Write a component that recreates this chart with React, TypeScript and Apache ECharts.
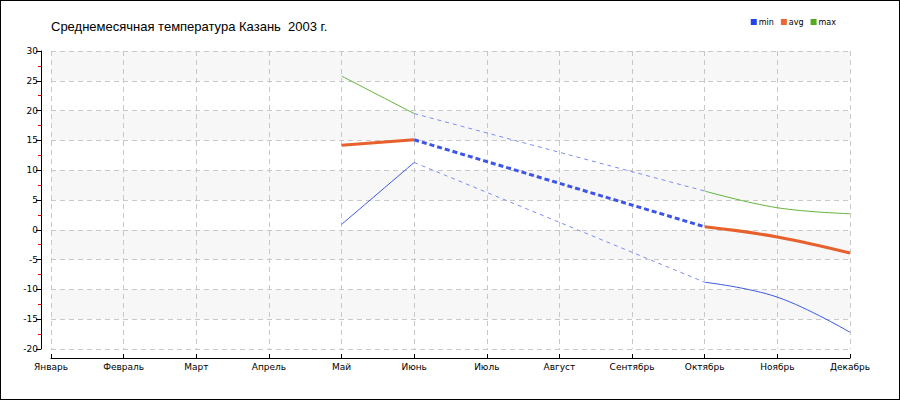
import React, { useEffect, useRef } from "react";
import * as echarts from "echarts";

const months = ["Январь", "Февраль", "Март", "Апрель", "Май", "Июнь", "Июль", "Август", "Сентябрь", "Октябрь", "Ноябрь", "Декабрь"];
const minVals: (number | null)[] = [null, null, null, null, 0.9, 11.3, null, null, null, -8.8, -11.3, -17.2];
const avgVals: (number | null)[] = [null, null, null, null, 14.2, 15.1, null, null, null, 0.5, -1.2, -3.9];
const maxVals: (number | null)[] = [null, null, null, null, 25.8, 19.5, null, null, null, 6.5, 3.7, 2.7];
const titleText = "Среднемесячная температура Казань  2003 г.";

// keep only points bordering an interior gap, to draw a dashed bridge across it
function bridge(arr: (number | null)[]): (number | null)[] {
  const out: (number | null)[] = arr.map(() => null);
  for (let i = 0; i < arr.length; i++) {
    if (arr[i] === null) continue;
    const prevNull = i > 0 && arr[i - 1] === null;
    const nextNull = i < arr.length - 1 && arr[i + 1] === null;
    const hasBefore = arr.slice(0, i).some((v) => v !== null);
    const hasAfter = arr.slice(i + 1).some((v) => v !== null);
    if ((prevNull && hasBefore) || (nextNull && hasAfter)) out[i] = arr[i];
  }
  return out;
}

export default function App() {
  const ref = useRef<HTMLDivElement>(null);
  useEffect(() => {
    document.body.style.margin = "0";
    if (!ref.current) return;
    const chart = echarts.init(ref.current, undefined, { renderer: "svg" });
    const font = "DejaVu Sans";
    const solid = (name: string, data: (number | null)[], color: string, width: number) => ({
      name,
      type: "line",
      data,
      smooth: 0.4,
      showSymbol: false,
      symbol: "none",
      connectNulls: false,
      itemStyle: { color },
      lineStyle: { color, width },
      z: 3,
    });
    const dashed = (name: string, data: (number | null)[], color: string, width: number, dash: number[]) => ({
      name,
      type: "line",
      data: bridge(data),
      showSymbol: false,
      symbol: "none",
      connectNulls: true,
      lineStyle: { color, width, type: dash },
      itemStyle: { color },
      z: 2,
    });
    chart.setOption({
      animation: false,
      backgroundColor: "#fff",
      title: {
        text: titleText,
        left: 45,
        top: 14,
        textStyle: { fontFamily: "Liberation Sans", fontSize: 13, fontWeight: "normal", color: "#000" },
      },
      legend: {
        data: [
          { name: "min", itemStyle: { color: "#2244ee" } },
          { name: "avg", itemStyle: { color: "#ee6633" } },
          { name: "max", itemStyle: { color: "#55aa22" } },
        ],
        right: 58,
        top: 12,
        icon: "rect",
        itemWidth: 6,
        itemHeight: 6,
        itemGap: 7,
        textStyle: { fontFamily: font, fontSize: 8, color: "#000", padding: [0, 0, 0, -3] },
      },
      grid: { left: 50, right: 49, top: 50, bottom: 50, containLabel: false },
      xAxis: {
        type: "category",
        data: months,
        boundaryGap: false,
        offset: 9,
        axisLine: { show: true, onZero: false, lineStyle: { color: "#000", width: 1 } },
        axisTick: { show: true, inside: true, length: 4, alignWithLabel: true, lineStyle: { color: "#000" } },
        axisLabel: { fontFamily: font, fontSize: 9, color: "#000", margin: 4, interval: 0 },
        splitLine: { show: true, lineStyle: { color: "#c8c8c8", type: [5, 4] } },
      },
      yAxis: {
        type: "value",
        min: -20,
        max: 30,
        interval: 5,
        offset: 10,
        axisLine: { show: true, onZero: false, lineStyle: { color: "#000", width: 1 } },
        axisTick: { show: true, length: 5, lineStyle: { color: "#000" } },
        minorTick: { show: true, splitNumber: 2, length: 3, lineStyle: { color: "#dd0000" } },
        axisLabel: { fontFamily: font, fontSize: 9, color: "#000", margin: 3 },
        splitLine: { show: true, lineStyle: { color: "#c8c8c8", type: [5, 4] } },
        splitArea: { show: true, areaStyle: { color: ["#ffffff", "#f7f7f7"] } },
      },
      series: [
        dashed("min-bridge", minVals, "#7d8df0", 1, [4, 4]),
        dashed("max-bridge", maxVals, "#7d8df0", 1, [4, 4]),
        dashed("avg-bridge", avgVals, "#3d55e6", 3, [5, 3]),
        solid("min", minVals, "#3a5ae2", 1),
        solid("max", maxVals, "#66b33c", 1),
        solid("avg", avgVals, "#e8602c", 3),
      ],
    });
    return () => chart.dispose();
  }, []);
  return (
    <div
      ref={ref}
      style={{
        position: "absolute",
        left: 0,
        top: 0,
        width: 900,
        height: 400,
        boxSizing: "border-box",
        border: "1px solid #000",
      }}
    />
  );
}
